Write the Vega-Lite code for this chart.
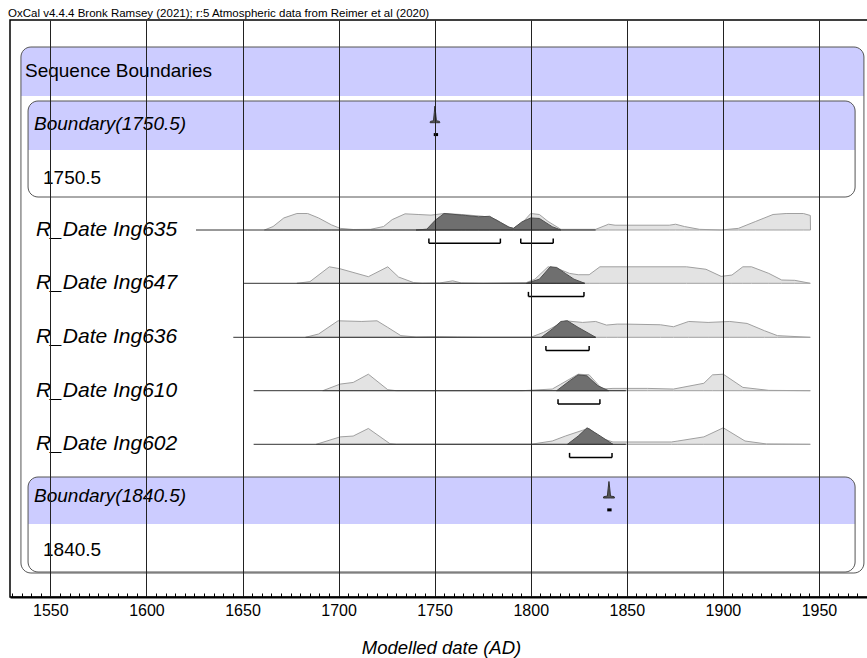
{
"$schema": "https://vega.github.io/schema/vega-lite/v6.json",
"width": 862, "height": 577, "autosize": "none",
"padding": {"left": 10, "top": 20, "right": 0, "bottom": 61},
"background": "white",
"config": {"view": {"stroke": "#000", "strokeWidth": 1.5}, "font": "Liberation Sans"},
"title": {"text": "OxCal v4.4.4 Bronk Ramsey (2021); r:5 Atmospheric data from Reimer et al (2020)", "anchor": "start", "frame": "group", "fontSize": 11.5, "fontWeight": "normal", "color": "#000", "offset": 2, "baseline": "bottom", "dx": -2, "dy": 12},
"datasets": {
"boxes": [
{"part":"header","x1":1534.7,"x2":1973.4,"y1":27,"y2":76},
{"part":"outline","x1":1534.7,"x2":1973.4,"y1":27,"y2":553},
{"part":"header","x1":1538.4,"x2":1968.8,"y1":81,"y2":130},
{"part":"outline","x1":1538.4,"x2":1968.8,"y1":81,"y2":177},
{"part":"header","x1":1538.4,"x2":1968.8,"y1":457,"y2":504},
{"part":"outline","x1":1538.4,"x2":1968.8,"y1":457,"y2":552}
],
"texts": [
{"role":"group","t":"Sequence Boundaries","x":1536.8,"y":51},
{"role":"name","t":"Boundary(1750.5)","x":1541.5,"y":104},
{"role":"value","t":"1750.5","x":1546.2,"y":158},
{"role":"name","t":"Boundary(1840.5)","x":1541.5,"y":476},
{"role":"value","t":"1840.5","x":1546.2,"y":530}
],
"labels": [
{"id":"Ing635","label":"R_Date Ing635"},
{"id":"Ing647","label":"R_Date Ing647"},
{"id":"Ing636","label":"R_Date Ing636"},
{"id":"Ing610","label":"R_Date Ing610"},
{"id":"Ing602","label":"R_Date Ing602"}
],
"lines": [
{"id":"Ing635","from":1625.8,"to":1833.8},
{"id":"Ing647","from":1650.8,"to":1828.1},
{"id":"Ing636","from":1645.2,"to":1833.8},
{"id":"Ing610","from":1655.8,"to":1849.5},
{"id":"Ing602","from":1655.8,"to":1849.5}
],
"ranges": [
{"id":"Ing635","from":1747.0,"to":1784.2},
{"id":"Ing635","from":1794.8,"to":1811.7},
{"id":"Ing647","from":1798.8,"to":1827.7},
{"id":"Ing636","from":1807.9,"to":1830.4},
{"id":"Ing610","from":1814.2,"to":1836.0},
{"id":"Ing602","from":1820.2,"to":1842.3},
{"id":"B1750","from":1750.3,"to":1751.0},
{"id":"B1840","from":1840.6,"to":1841.3}
],
"dist": [
{"id":"Ing635","kind":"prior","year":1661.4,"p":0},
{"id":"Ing635","kind":"prior","year":1665.9,"p":0.21},
{"id":"Ing635","kind":"prior","year":1671.5,"p":0.73},
{"id":"Ing635","kind":"prior","year":1678.3,"p":1.0},
{"id":"Ing635","kind":"prior","year":1683.9,"p":1.0},
{"id":"Ing635","kind":"prior","year":1689.6,"p":0.73},
{"id":"Ing635","kind":"prior","year":1696.3,"p":0.31},
{"id":"Ing635","kind":"prior","year":1700.8,"p":0.10},
{"id":"Ing635","kind":"prior","year":1707.6,"p":0.03},
{"id":"Ing635","kind":"prior","year":1716.6,"p":0.04},
{"id":"Ing635","kind":"prior","year":1723.4,"p":0.21},
{"id":"Ing635","kind":"prior","year":1727.9,"p":0.63},
{"id":"Ing635","kind":"prior","year":1734.6,"p":0.98},
{"id":"Ing635","kind":"prior","year":1741.4,"p":0.94},
{"id":"Ing635","kind":"prior","year":1748.1,"p":0.90},
{"id":"Ing635","kind":"prior","year":1754.9,"p":1.0},
{"id":"Ing635","kind":"prior","year":1763.9,"p":0.94},
{"id":"Ing635","kind":"prior","year":1775.2,"p":0.83},
{"id":"Ing635","kind":"prior","year":1781.9,"p":0.63},
{"id":"Ing635","kind":"prior","year":1788.7,"p":0.17},
{"id":"Ing635","kind":"prior","year":1791.0,"p":0.10},
{"id":"Ing635","kind":"prior","year":1795.5,"p":0.42},
{"id":"Ing635","kind":"prior","year":1800.0,"p":1.0},
{"id":"Ing635","kind":"prior","year":1804.5,"p":0.94},
{"id":"Ing635","kind":"prior","year":1809.0,"p":0.52},
{"id":"Ing635","kind":"prior","year":1815.7,"p":0.04},
{"id":"Ing635","kind":"prior","year":1833.8,"p":0.04},
{"id":"Ing635","kind":"prior","year":1840.5,"p":0.35},
{"id":"Ing635","kind":"prior","year":1843.9,"p":0.29},
{"id":"Ing635","kind":"prior","year":1872.1,"p":0.29},
{"id":"Ing635","kind":"prior","year":1875.4,"p":0.35},
{"id":"Ing635","kind":"prior","year":1880.0,"p":0.21},
{"id":"Ing635","kind":"prior","year":1887.8,"p":0.04},
{"id":"Ing635","kind":"prior","year":1899.1,"p":0.0},
{"id":"Ing635","kind":"prior","year":1908.1,"p":0.10},
{"id":"Ing635","kind":"prior","year":1917.1,"p":0.52},
{"id":"Ing635","kind":"prior","year":1926.1,"p":0.94},
{"id":"Ing635","kind":"prior","year":1932.9,"p":1.0},
{"id":"Ing635","kind":"prior","year":1941.9,"p":1.0},
{"id":"Ing635","kind":"prior","year":1945.5,"p":0.88},
{"id":"Ing635","kind":"prior","year":1945.6,"p":0},
{"id":"Ing635","kind":"post","year":1740.3,"p":0},
{"id":"Ing635","kind":"post","year":1745.9,"p":0.05},
{"id":"Ing635","kind":"post","year":1750.4,"p":0.6},
{"id":"Ing635","kind":"post","year":1754.9,"p":1.0},
{"id":"Ing635","kind":"post","year":1766.2,"p":0.88},
{"id":"Ing635","kind":"post","year":1772.9,"p":0.80},
{"id":"Ing635","kind":"post","year":1778.6,"p":0.83},
{"id":"Ing635","kind":"post","year":1784.2,"p":0.46},
{"id":"Ing635","kind":"post","year":1788.7,"p":0.17},
{"id":"Ing635","kind":"post","year":1791.0,"p":0.10},
{"id":"Ing635","kind":"post","year":1795.5,"p":0.5},
{"id":"Ing635","kind":"post","year":1800.0,"p":0.73},
{"id":"Ing635","kind":"post","year":1804.5,"p":0.70},
{"id":"Ing635","kind":"post","year":1811.2,"p":0.2},
{"id":"Ing635","kind":"post","year":1815.7,"p":0},
{"id":"Ing647","kind":"prior","year":1678.3,"p":0},
{"id":"Ing647","kind":"prior","year":1685.1,"p":0.1},
{"id":"Ing647","kind":"prior","year":1695.2,"p":1.0},
{"id":"Ing647","kind":"prior","year":1700.8,"p":0.88},
{"id":"Ing647","kind":"prior","year":1715.5,"p":0.4},
{"id":"Ing647","kind":"prior","year":1725.6,"p":1.0},
{"id":"Ing647","kind":"prior","year":1731.2,"p":0.38},
{"id":"Ing647","kind":"prior","year":1739.1,"p":0.04},
{"id":"Ing647","kind":"prior","year":1743.6,"p":0},
{"id":"Ing647","kind":"prior","year":1752.7,"p":0.02},
{"id":"Ing647","kind":"prior","year":1759.4,"p":0.15},
{"id":"Ing647","kind":"prior","year":1763.9,"p":0.02},
{"id":"Ing647","kind":"prior","year":1775.2,"p":0},
{"id":"Ing647","kind":"prior","year":1797.7,"p":0.04},
{"id":"Ing647","kind":"prior","year":1802.2,"p":0.25},
{"id":"Ing647","kind":"prior","year":1809.0,"p":1.0},
{"id":"Ing647","kind":"prior","year":1813.5,"p":0.92},
{"id":"Ing647","kind":"prior","year":1820.2,"p":0.6},
{"id":"Ing647","kind":"prior","year":1824.7,"p":0.52},
{"id":"Ing647","kind":"prior","year":1830.4,"p":0.52},
{"id":"Ing647","kind":"prior","year":1836.0,"p":1.0},
{"id":"Ing647","kind":"prior","year":1849.5,"p":1.0},
{"id":"Ing647","kind":"prior","year":1881.1,"p":1.0},
{"id":"Ing647","kind":"prior","year":1891.2,"p":0.85},
{"id":"Ing647","kind":"prior","year":1899.1,"p":0.42},
{"id":"Ing647","kind":"prior","year":1904.7,"p":0.5},
{"id":"Ing647","kind":"prior","year":1910.4,"p":1.0},
{"id":"Ing647","kind":"prior","year":1914.9,"p":1.0},
{"id":"Ing647","kind":"prior","year":1923.9,"p":0.6},
{"id":"Ing647","kind":"prior","year":1930.6,"p":0.2},
{"id":"Ing647","kind":"prior","year":1937.4,"p":0.18},
{"id":"Ing647","kind":"prior","year":1945.5,"p":0},
{"id":"Ing647","kind":"post","year":1797.7,"p":0},
{"id":"Ing647","kind":"post","year":1804.5,"p":0.25},
{"id":"Ing647","kind":"post","year":1810.1,"p":1.0},
{"id":"Ing647","kind":"post","year":1813.5,"p":0.96},
{"id":"Ing647","kind":"post","year":1818.0,"p":0.6},
{"id":"Ing647","kind":"post","year":1822.5,"p":0.25},
{"id":"Ing647","kind":"post","year":1828.1,"p":0},
{"id":"Ing636","kind":"prior","year":1682.8,"p":0},
{"id":"Ing636","kind":"prior","year":1689.6,"p":0.2},
{"id":"Ing636","kind":"prior","year":1699.7,"p":1.0},
{"id":"Ing636","kind":"prior","year":1712.1,"p":0.96},
{"id":"Ing636","kind":"prior","year":1720.0,"p":1.0},
{"id":"Ing636","kind":"prior","year":1725.6,"p":0.6},
{"id":"Ing636","kind":"prior","year":1732.4,"p":0.1},
{"id":"Ing636","kind":"prior","year":1740.3,"p":0.02},
{"id":"Ing636","kind":"prior","year":1752.7,"p":0.04},
{"id":"Ing636","kind":"prior","year":1761.7,"p":0.02},
{"id":"Ing636","kind":"prior","year":1775.2,"p":0},
{"id":"Ing636","kind":"prior","year":1800.0,"p":0},
{"id":"Ing636","kind":"prior","year":1806.7,"p":0.3},
{"id":"Ing636","kind":"prior","year":1818.0,"p":1.0},
{"id":"Ing636","kind":"prior","year":1827.0,"p":0.9},
{"id":"Ing636","kind":"prior","year":1833.8,"p":0.96},
{"id":"Ing636","kind":"prior","year":1839.4,"p":0.74},
{"id":"Ing636","kind":"prior","year":1845.0,"p":0.8},
{"id":"Ing636","kind":"prior","year":1849.5,"p":0.8},
{"id":"Ing636","kind":"prior","year":1867.5,"p":0.76},
{"id":"Ing636","kind":"prior","year":1874.3,"p":0.64},
{"id":"Ing636","kind":"prior","year":1882.2,"p":0.96},
{"id":"Ing636","kind":"prior","year":1892.3,"p":0.9},
{"id":"Ing636","kind":"prior","year":1903.6,"p":0.96},
{"id":"Ing636","kind":"prior","year":1912.6,"p":0.84},
{"id":"Ing636","kind":"prior","year":1921.6,"p":0.4},
{"id":"Ing636","kind":"prior","year":1928.4,"p":0.1},
{"id":"Ing636","kind":"prior","year":1945.5,"p":0},
{"id":"Ing636","kind":"post","year":1805.6,"p":0},
{"id":"Ing636","kind":"post","year":1811.2,"p":0.5},
{"id":"Ing636","kind":"post","year":1815.7,"p":0.96},
{"id":"Ing636","kind":"post","year":1819.1,"p":1.0},
{"id":"Ing636","kind":"post","year":1824.7,"p":0.6},
{"id":"Ing636","kind":"post","year":1833.8,"p":0},
{"id":"Ing610","kind":"prior","year":1691.8,"p":0},
{"id":"Ing610","kind":"prior","year":1700.8,"p":0.4},
{"id":"Ing610","kind":"prior","year":1707.6,"p":0.5},
{"id":"Ing610","kind":"prior","year":1715.5,"p":1.0},
{"id":"Ing610","kind":"prior","year":1725.6,"p":0.06},
{"id":"Ing610","kind":"prior","year":1730.1,"p":0},
{"id":"Ing610","kind":"prior","year":1795.5,"p":0},
{"id":"Ing610","kind":"prior","year":1811.2,"p":0.1},
{"id":"Ing610","kind":"prior","year":1815.7,"p":0.4},
{"id":"Ing610","kind":"prior","year":1824.7,"p":1.0},
{"id":"Ing610","kind":"prior","year":1830.4,"p":0.96},
{"id":"Ing610","kind":"prior","year":1837.1,"p":0.1},
{"id":"Ing610","kind":"prior","year":1842.8,"p":0.14},
{"id":"Ing610","kind":"prior","year":1860.8,"p":0.14},
{"id":"Ing610","kind":"prior","year":1874.3,"p":0.1},
{"id":"Ing610","kind":"prior","year":1890.1,"p":0.45},
{"id":"Ing610","kind":"prior","year":1894.6,"p":0.96},
{"id":"Ing610","kind":"prior","year":1900.2,"p":1.0},
{"id":"Ing610","kind":"prior","year":1910.4,"p":0.2},
{"id":"Ing610","kind":"prior","year":1923.9,"p":0.02},
{"id":"Ing610","kind":"prior","year":1945.5,"p":0},
{"id":"Ing610","kind":"post","year":1813.5,"p":0},
{"id":"Ing610","kind":"post","year":1820.2,"p":0.6},
{"id":"Ing610","kind":"post","year":1824.7,"p":0.96},
{"id":"Ing610","kind":"post","year":1829.3,"p":0.9},
{"id":"Ing610","kind":"post","year":1834.9,"p":0.3},
{"id":"Ing610","kind":"post","year":1840.5,"p":0},
{"id":"Ing602","kind":"prior","year":1688.4,"p":0},
{"id":"Ing602","kind":"prior","year":1700.8,"p":0.45},
{"id":"Ing602","kind":"prior","year":1707.6,"p":0.5},
{"id":"Ing602","kind":"prior","year":1715.5,"p":0.96},
{"id":"Ing602","kind":"prior","year":1726.7,"p":0.04},
{"id":"Ing602","kind":"prior","year":1730.1,"p":0},
{"id":"Ing602","kind":"prior","year":1800.0,"p":0},
{"id":"Ing602","kind":"prior","year":1811.2,"p":0.2},
{"id":"Ing602","kind":"prior","year":1818.0,"p":0.5},
{"id":"Ing602","kind":"prior","year":1827.0,"p":0.85},
{"id":"Ing602","kind":"prior","year":1830.4,"p":0.96},
{"id":"Ing602","kind":"prior","year":1837.1,"p":0.35},
{"id":"Ing602","kind":"prior","year":1842.8,"p":0.14},
{"id":"Ing602","kind":"prior","year":1873.2,"p":0.14},
{"id":"Ing602","kind":"prior","year":1876.6,"p":0.2},
{"id":"Ing602","kind":"prior","year":1890.1,"p":0.45},
{"id":"Ing602","kind":"prior","year":1900.2,"p":1.0},
{"id":"Ing602","kind":"prior","year":1911.5,"p":0.2},
{"id":"Ing602","kind":"prior","year":1922.7,"p":0.02},
{"id":"Ing602","kind":"prior","year":1945.5,"p":0},
{"id":"Ing602","kind":"post","year":1819.1,"p":0},
{"id":"Ing602","kind":"post","year":1824.7,"p":0.5},
{"id":"Ing602","kind":"post","year":1829.3,"p":1.0},
{"id":"Ing602","kind":"post","year":1834.9,"p":0.6},
{"id":"Ing602","kind":"post","year":1842.8,"p":0},
{"id":"B1750","kind":"post","year":1747.6,"p":0},
{"id":"B1750","kind":"post","year":1747.8,"p":0.08},
{"id":"B1750","kind":"post","year":1749.4,"p":0.12},
{"id":"B1750","kind":"post","year":1749.8,"p":0.6},
{"id":"B1750","kind":"post","year":1750.1,"p":1.0},
{"id":"B1750","kind":"post","year":1750.5,"p":0.6},
{"id":"B1750","kind":"post","year":1750.9,"p":0.12},
{"id":"B1750","kind":"post","year":1752.5,"p":0.08},
{"id":"B1750","kind":"post","year":1752.7,"p":0},
{"id":"B1840","kind":"post","year":1837.8,"p":0},
{"id":"B1840","kind":"post","year":1838.0,"p":0.08},
{"id":"B1840","kind":"post","year":1839.9,"p":0.12},
{"id":"B1840","kind":"post","year":1840.3,"p":0.6},
{"id":"B1840","kind":"post","year":1840.7,"p":1.0},
{"id":"B1840","kind":"post","year":1841.1,"p":0.6},
{"id":"B1840","kind":"post","year":1841.5,"p":0.12},
{"id":"B1840","kind":"post","year":1843.4,"p":0.08},
{"id":"B1840","kind":"post","year":1843.6,"p":0}
]
},
"resolve": {"scale": {"y": "independent"}, "axis": {"x": "independent"}},
"layer": [
 {"data": {"name": "boxes"}, "transform": [{"filter": "datum.part === 'header'"}],
  "mark": {"type": "rect", "fill": "#ccccff", "cornerRadiusTopLeft": 10, "cornerRadiusTopRight": 10},
  "encoding": {
   "x": {"field": "x1", "type": "quantitative", "scale": {"domain": [1529, 1977.6], "nice": false, "zero": false},
    "axis": {"orient": "bottom", "values": [1550,1600,1650,1700,1750,1800,1850,1900,1950],
     "title": "Modelled date (AD)", "format": "d", "ticks": false,
     "grid": true, "gridColor": "#222", "gridWidth": 1, "gridOpacity": 1,
     "domainColor": "#000", "domainWidth": 2,
     "labelFontSize": 16, "labelColor": "#000", "labelPadding": 5, "labelFlush": false, "labelOverlap": false,
     "titleFontSize": 18.5, "titleFontStyle": "italic", "titleFontWeight": "normal", "titleColor": "#000", "titlePadding": 20,
     "zindex": 1}},
   "x2": {"field": "x2"},
   "y": {"field": "y1", "type": "quantitative", "scale": {"domain": [0, 577], "reverse": true, "nice": false, "zero": false}, "axis": null},
   "y2": {"field": "y2"}}},
 {"data": {"name": "boxes"}, "transform": [{"filter": "datum.part === 'outline'"}],
  "mark": {"type": "rect", "fill": "#ffffff", "fillOpacity": 0, "stroke": "#555", "strokeWidth": 1, "cornerRadius": 10},
  "encoding": {
   "x": {"field": "x1", "type": "quantitative", "scale": {"domain": [1529, 1977.6], "nice": false, "zero": false},
    "axis": {"orient": "bottom", "values": [1530,1535,1540,1545,1555,1560,1565,1570,1575,1580,1585,1590,1595,1605,1610,1615,1620,1625,1630,1635,1640,1645,1655,1660,1665,1670,1675,1680,1685,1690,1695,1705,1710,1715,1720,1725,1730,1735,1740,1745,1755,1760,1765,1770,1775,1780,1785,1790,1795,1805,1810,1815,1820,1825,1830,1835,1840,1845,1855,1860,1865,1870,1875,1880,1885,1890,1895,1905,1910,1915,1920,1925,1930,1935,1940,1945,1955,1960,1965,1970,1975],
     "title": null, "labels": false, "grid": false, "domain": false, "ticks": true, "tickSize": 4, "tickColor": "#000", "tickWidth": 1, "offset": -4, "zindex": 1}},
   "x2": {"field": "x2"},
   "y": {"field": "y1", "type": "quantitative", "scale": {"domain": [0, 577], "reverse": true, "nice": false, "zero": false}, "axis": null},
   "y2": {"field": "y2"}}},
 {"data": {"name": "texts"}, "transform": [{"filter": "datum.role === 'group'"}],
  "mark": {"type": "text", "align": "left", "baseline": "middle", "fontSize": 19, "color": "#000"},
  "encoding": {
   "x": {"field": "x", "type": "quantitative", "scale": {"domain": [1529, 1977.6], "nice": false, "zero": false}, "axis": null},
   "y": {"field": "y", "type": "quantitative", "scale": {"domain": [0, 577], "reverse": true, "nice": false, "zero": false}, "axis": null},
   "text": {"field": "t"}}},
 {"data": {"name": "texts"}, "transform": [{"filter": "datum.role === 'name'"}],
  "mark": {"type": "text", "align": "left", "baseline": "middle", "fontSize": 19, "fontStyle": "italic", "color": "#000"},
  "encoding": {
   "x": {"field": "x", "type": "quantitative", "scale": {"domain": [1529, 1977.6], "nice": false, "zero": false}, "axis": null},
   "y": {"field": "y", "type": "quantitative", "scale": {"domain": [0, 577], "reverse": true, "nice": false, "zero": false}, "axis": null},
   "text": {"field": "t"}}},
 {"data": {"name": "texts"}, "transform": [{"filter": "datum.role === 'value'"}],
  "mark": {"type": "text", "align": "left", "baseline": "middle", "fontSize": 19, "color": "#000"},
  "encoding": {
   "x": {"field": "x", "type": "quantitative", "scale": {"domain": [1529, 1977.6], "nice": false, "zero": false}, "axis": null},
   "y": {"field": "y", "type": "quantitative", "scale": {"domain": [0, 577], "reverse": true, "nice": false, "zero": false}, "axis": null},
   "text": {"field": "t"}}},
{"layer": [
 {"data": {"name": "dist"}, "transform": [{"filter": "datum.id === 'Ing635' && datum.kind === 'prior'"}], "mark": {"type": "area", "fill": "#e3e3e3", "stroke": "#a0a0a0", "strokeWidth": 1},
  "encoding": {"x": {"field": "year", "type": "quantitative", "scale": {"domain": [1529, 1977.6], "nice": false, "zero": false}, "axis": null}, "y": {"field": "p", "type": "quantitative", "scale": {"domain": [-22.2424, 12.7273], "nice": false, "zero": false}, "axis": null}, "y2": {"datum": 0}}},
 {"data": {"name": "dist"}, "transform": [{"filter": "datum.id === 'Ing635' && datum.kind === 'post'"}], "mark": {"type": "area", "fill": "#6f6f6f", "stroke": "#505050", "strokeWidth": 1},
  "encoding": {"x": {"field": "year", "type": "quantitative", "scale": {"domain": [1529, 1977.6], "nice": false, "zero": false}, "axis": null}, "y": {"field": "p", "type": "quantitative", "scale": {"domain": [-22.2424, 12.7273], "nice": false, "zero": false}, "axis": null}, "y2": {"datum": 0}}},
 {"data": {"name": "lines"}, "transform": [{"filter": "datum.id === 'Ing635'"}], "mark": {"type": "rule", "color": "#333", "strokeWidth": 1},
  "encoding": {"x": {"field": "from", "type": "quantitative", "scale": {"domain": [1529, 1977.6], "nice": false, "zero": false}, "axis": null}, "x2": {"field": "to"}, "y": {"datum": 0, "type": "quantitative", "scale": {"domain": [-22.2424, 12.7273], "nice": false, "zero": false}, "axis": null}}},
 {"data": {"name": "ranges"}, "transform": [{"filter": "datum.id === 'Ing635'"}], "mark": {"type": "rule", "color": "#000", "strokeWidth": 1.5},
  "encoding": {"x": {"field": "from", "type": "quantitative", "scale": {"domain": [1529, 1977.6], "nice": false, "zero": false}, "axis": null}, "x2": {"field": "to"}, "y": {"datum": -0.8, "type": "quantitative", "scale": {"domain": [-22.2424, 12.7273], "nice": false, "zero": false}, "axis": null}}},
 {"data": {"name": "ranges"}, "transform": [{"filter": "datum.id === 'Ing635'"}], "mark": {"type": "rule", "color": "#000", "strokeWidth": 1.5},
  "encoding": {"x": {"field": "from", "type": "quantitative", "scale": {"domain": [1529, 1977.6], "nice": false, "zero": false}, "axis": null}, "y": {"datum": -0.8, "type": "quantitative", "scale": {"domain": [-22.2424, 12.7273], "nice": false, "zero": false}, "axis": null}, "y2": {"datum": -0.52}}},
 {"data": {"name": "ranges"}, "transform": [{"filter": "datum.id === 'Ing635'"}], "mark": {"type": "rule", "color": "#000", "strokeWidth": 1.5},
  "encoding": {"x": {"field": "to", "type": "quantitative", "scale": {"domain": [1529, 1977.6], "nice": false, "zero": false}, "axis": null}, "y": {"datum": -0.8, "type": "quantitative", "scale": {"domain": [-22.2424, 12.7273], "nice": false, "zero": false}, "axis": null}, "y2": {"datum": -0.52}}},
 {"data": {"name": "labels"}, "transform": [{"filter": "datum.id === 'Ing635'"}], "mark": {"type": "text", "align": "left", "baseline": "middle", "fontSize": 21, "fontStyle": "italic", "color": "#000"},
  "encoding": {"x": {"datum": 1542.5, "type": "quantitative", "scale": {"domain": [1529, 1977.6], "nice": false, "zero": false}, "axis": null}, "y": {"datum": 0, "type": "quantitative", "scale": {"domain": [-22.2424, 12.7273], "nice": false, "zero": false}, "axis": null}, "text": {"field": "label"}}}
]},
{"layer": [
 {"data": {"name": "dist"}, "transform": [{"filter": "datum.id === 'Ing647' && datum.kind === 'prior'"}], "mark": {"type": "area", "fill": "#e3e3e3", "stroke": "#a0a0a0", "strokeWidth": 1},
  "encoding": {"x": {"field": "year", "type": "quantitative", "scale": {"domain": [1529, 1977.6], "nice": false, "zero": false}, "axis": null}, "y": {"field": "p", "type": "quantitative", "scale": {"domain": [-19.0121, 15.9576], "nice": false, "zero": false}, "axis": null}, "y2": {"datum": 0}}},
 {"data": {"name": "dist"}, "transform": [{"filter": "datum.id === 'Ing647' && datum.kind === 'post'"}], "mark": {"type": "area", "fill": "#6f6f6f", "stroke": "#505050", "strokeWidth": 1},
  "encoding": {"x": {"field": "year", "type": "quantitative", "scale": {"domain": [1529, 1977.6], "nice": false, "zero": false}, "axis": null}, "y": {"field": "p", "type": "quantitative", "scale": {"domain": [-19.0121, 15.9576], "nice": false, "zero": false}, "axis": null}, "y2": {"datum": 0}}},
 {"data": {"name": "lines"}, "transform": [{"filter": "datum.id === 'Ing647'"}], "mark": {"type": "rule", "color": "#333", "strokeWidth": 1},
  "encoding": {"x": {"field": "from", "type": "quantitative", "scale": {"domain": [1529, 1977.6], "nice": false, "zero": false}, "axis": null}, "x2": {"field": "to"}, "y": {"datum": 0, "type": "quantitative", "scale": {"domain": [-19.0121, 15.9576], "nice": false, "zero": false}, "axis": null}}},
 {"data": {"name": "ranges"}, "transform": [{"filter": "datum.id === 'Ing647'"}], "mark": {"type": "rule", "color": "#000", "strokeWidth": 1.5},
  "encoding": {"x": {"field": "from", "type": "quantitative", "scale": {"domain": [1529, 1977.6], "nice": false, "zero": false}, "axis": null}, "x2": {"field": "to"}, "y": {"datum": -0.8, "type": "quantitative", "scale": {"domain": [-19.0121, 15.9576], "nice": false, "zero": false}, "axis": null}}},
 {"data": {"name": "ranges"}, "transform": [{"filter": "datum.id === 'Ing647'"}], "mark": {"type": "rule", "color": "#000", "strokeWidth": 1.5},
  "encoding": {"x": {"field": "from", "type": "quantitative", "scale": {"domain": [1529, 1977.6], "nice": false, "zero": false}, "axis": null}, "y": {"datum": -0.8, "type": "quantitative", "scale": {"domain": [-19.0121, 15.9576], "nice": false, "zero": false}, "axis": null}, "y2": {"datum": -0.52}}},
 {"data": {"name": "ranges"}, "transform": [{"filter": "datum.id === 'Ing647'"}], "mark": {"type": "rule", "color": "#000", "strokeWidth": 1.5},
  "encoding": {"x": {"field": "to", "type": "quantitative", "scale": {"domain": [1529, 1977.6], "nice": false, "zero": false}, "axis": null}, "y": {"datum": -0.8, "type": "quantitative", "scale": {"domain": [-19.0121, 15.9576], "nice": false, "zero": false}, "axis": null}, "y2": {"datum": -0.52}}},
 {"data": {"name": "labels"}, "transform": [{"filter": "datum.id === 'Ing647'"}], "mark": {"type": "text", "align": "left", "baseline": "middle", "fontSize": 21, "fontStyle": "italic", "color": "#000"},
  "encoding": {"x": {"datum": 1542.5, "type": "quantitative", "scale": {"domain": [1529, 1977.6], "nice": false, "zero": false}, "axis": null}, "y": {"datum": 0, "type": "quantitative", "scale": {"domain": [-19.0121, 15.9576], "nice": false, "zero": false}, "axis": null}, "text": {"field": "label"}}}
]},
{"layer": [
 {"data": {"name": "dist"}, "transform": [{"filter": "datum.id === 'Ing636' && datum.kind === 'prior'"}], "mark": {"type": "area", "fill": "#e3e3e3", "stroke": "#a0a0a0", "strokeWidth": 1},
  "encoding": {"x": {"field": "year", "type": "quantitative", "scale": {"domain": [1529, 1977.6], "nice": false, "zero": false}, "axis": null}, "y": {"field": "p", "type": "quantitative", "scale": {"domain": [-15.7394, 19.2303], "nice": false, "zero": false}, "axis": null}, "y2": {"datum": 0}}},
 {"data": {"name": "dist"}, "transform": [{"filter": "datum.id === 'Ing636' && datum.kind === 'post'"}], "mark": {"type": "area", "fill": "#6f6f6f", "stroke": "#505050", "strokeWidth": 1},
  "encoding": {"x": {"field": "year", "type": "quantitative", "scale": {"domain": [1529, 1977.6], "nice": false, "zero": false}, "axis": null}, "y": {"field": "p", "type": "quantitative", "scale": {"domain": [-15.7394, 19.2303], "nice": false, "zero": false}, "axis": null}, "y2": {"datum": 0}}},
 {"data": {"name": "lines"}, "transform": [{"filter": "datum.id === 'Ing636'"}], "mark": {"type": "rule", "color": "#333", "strokeWidth": 1},
  "encoding": {"x": {"field": "from", "type": "quantitative", "scale": {"domain": [1529, 1977.6], "nice": false, "zero": false}, "axis": null}, "x2": {"field": "to"}, "y": {"datum": 0, "type": "quantitative", "scale": {"domain": [-15.7394, 19.2303], "nice": false, "zero": false}, "axis": null}}},
 {"data": {"name": "ranges"}, "transform": [{"filter": "datum.id === 'Ing636'"}], "mark": {"type": "rule", "color": "#000", "strokeWidth": 1.5},
  "encoding": {"x": {"field": "from", "type": "quantitative", "scale": {"domain": [1529, 1977.6], "nice": false, "zero": false}, "axis": null}, "x2": {"field": "to"}, "y": {"datum": -0.8, "type": "quantitative", "scale": {"domain": [-15.7394, 19.2303], "nice": false, "zero": false}, "axis": null}}},
 {"data": {"name": "ranges"}, "transform": [{"filter": "datum.id === 'Ing636'"}], "mark": {"type": "rule", "color": "#000", "strokeWidth": 1.5},
  "encoding": {"x": {"field": "from", "type": "quantitative", "scale": {"domain": [1529, 1977.6], "nice": false, "zero": false}, "axis": null}, "y": {"datum": -0.8, "type": "quantitative", "scale": {"domain": [-15.7394, 19.2303], "nice": false, "zero": false}, "axis": null}, "y2": {"datum": -0.52}}},
 {"data": {"name": "ranges"}, "transform": [{"filter": "datum.id === 'Ing636'"}], "mark": {"type": "rule", "color": "#000", "strokeWidth": 1.5},
  "encoding": {"x": {"field": "to", "type": "quantitative", "scale": {"domain": [1529, 1977.6], "nice": false, "zero": false}, "axis": null}, "y": {"datum": -0.8, "type": "quantitative", "scale": {"domain": [-15.7394, 19.2303], "nice": false, "zero": false}, "axis": null}, "y2": {"datum": -0.52}}},
 {"data": {"name": "labels"}, "transform": [{"filter": "datum.id === 'Ing636'"}], "mark": {"type": "text", "align": "left", "baseline": "middle", "fontSize": 21, "fontStyle": "italic", "color": "#000"},
  "encoding": {"x": {"datum": 1542.5, "type": "quantitative", "scale": {"domain": [1529, 1977.6], "nice": false, "zero": false}, "axis": null}, "y": {"datum": 0, "type": "quantitative", "scale": {"domain": [-15.7394, 19.2303], "nice": false, "zero": false}, "axis": null}, "text": {"field": "label"}}}
]},
{"layer": [
 {"data": {"name": "dist"}, "transform": [{"filter": "datum.id === 'Ing610' && datum.kind === 'prior'"}], "mark": {"type": "area", "fill": "#e3e3e3", "stroke": "#a0a0a0", "strokeWidth": 1},
  "encoding": {"x": {"field": "year", "type": "quantitative", "scale": {"domain": [1529, 1977.6], "nice": false, "zero": false}, "axis": null}, "y": {"field": "p", "type": "quantitative", "scale": {"domain": [-12.503, 22.4667], "nice": false, "zero": false}, "axis": null}, "y2": {"datum": 0}}},
 {"data": {"name": "dist"}, "transform": [{"filter": "datum.id === 'Ing610' && datum.kind === 'post'"}], "mark": {"type": "area", "fill": "#6f6f6f", "stroke": "#505050", "strokeWidth": 1},
  "encoding": {"x": {"field": "year", "type": "quantitative", "scale": {"domain": [1529, 1977.6], "nice": false, "zero": false}, "axis": null}, "y": {"field": "p", "type": "quantitative", "scale": {"domain": [-12.503, 22.4667], "nice": false, "zero": false}, "axis": null}, "y2": {"datum": 0}}},
 {"data": {"name": "lines"}, "transform": [{"filter": "datum.id === 'Ing610'"}], "mark": {"type": "rule", "color": "#333", "strokeWidth": 1},
  "encoding": {"x": {"field": "from", "type": "quantitative", "scale": {"domain": [1529, 1977.6], "nice": false, "zero": false}, "axis": null}, "x2": {"field": "to"}, "y": {"datum": 0, "type": "quantitative", "scale": {"domain": [-12.503, 22.4667], "nice": false, "zero": false}, "axis": null}}},
 {"data": {"name": "ranges"}, "transform": [{"filter": "datum.id === 'Ing610'"}], "mark": {"type": "rule", "color": "#000", "strokeWidth": 1.5},
  "encoding": {"x": {"field": "from", "type": "quantitative", "scale": {"domain": [1529, 1977.6], "nice": false, "zero": false}, "axis": null}, "x2": {"field": "to"}, "y": {"datum": -0.8, "type": "quantitative", "scale": {"domain": [-12.503, 22.4667], "nice": false, "zero": false}, "axis": null}}},
 {"data": {"name": "ranges"}, "transform": [{"filter": "datum.id === 'Ing610'"}], "mark": {"type": "rule", "color": "#000", "strokeWidth": 1.5},
  "encoding": {"x": {"field": "from", "type": "quantitative", "scale": {"domain": [1529, 1977.6], "nice": false, "zero": false}, "axis": null}, "y": {"datum": -0.8, "type": "quantitative", "scale": {"domain": [-12.503, 22.4667], "nice": false, "zero": false}, "axis": null}, "y2": {"datum": -0.52}}},
 {"data": {"name": "ranges"}, "transform": [{"filter": "datum.id === 'Ing610'"}], "mark": {"type": "rule", "color": "#000", "strokeWidth": 1.5},
  "encoding": {"x": {"field": "to", "type": "quantitative", "scale": {"domain": [1529, 1977.6], "nice": false, "zero": false}, "axis": null}, "y": {"datum": -0.8, "type": "quantitative", "scale": {"domain": [-12.503, 22.4667], "nice": false, "zero": false}, "axis": null}, "y2": {"datum": -0.52}}},
 {"data": {"name": "labels"}, "transform": [{"filter": "datum.id === 'Ing610'"}], "mark": {"type": "text", "align": "left", "baseline": "middle", "fontSize": 21, "fontStyle": "italic", "color": "#000"},
  "encoding": {"x": {"datum": 1542.5, "type": "quantitative", "scale": {"domain": [1529, 1977.6], "nice": false, "zero": false}, "axis": null}, "y": {"datum": 0, "type": "quantitative", "scale": {"domain": [-12.503, 22.4667], "nice": false, "zero": false}, "axis": null}, "text": {"field": "label"}}}
]},
{"layer": [
 {"data": {"name": "dist"}, "transform": [{"filter": "datum.id === 'Ing602' && datum.kind === 'prior'"}], "mark": {"type": "area", "fill": "#e3e3e3", "stroke": "#a0a0a0", "strokeWidth": 1},
  "encoding": {"x": {"field": "year", "type": "quantitative", "scale": {"domain": [1529, 1977.6], "nice": false, "zero": false}, "axis": null}, "y": {"field": "p", "type": "quantitative", "scale": {"domain": [-9.2545, 25.7152], "nice": false, "zero": false}, "axis": null}, "y2": {"datum": 0}}},
 {"data": {"name": "dist"}, "transform": [{"filter": "datum.id === 'Ing602' && datum.kind === 'post'"}], "mark": {"type": "area", "fill": "#6f6f6f", "stroke": "#505050", "strokeWidth": 1},
  "encoding": {"x": {"field": "year", "type": "quantitative", "scale": {"domain": [1529, 1977.6], "nice": false, "zero": false}, "axis": null}, "y": {"field": "p", "type": "quantitative", "scale": {"domain": [-9.2545, 25.7152], "nice": false, "zero": false}, "axis": null}, "y2": {"datum": 0}}},
 {"data": {"name": "lines"}, "transform": [{"filter": "datum.id === 'Ing602'"}], "mark": {"type": "rule", "color": "#333", "strokeWidth": 1},
  "encoding": {"x": {"field": "from", "type": "quantitative", "scale": {"domain": [1529, 1977.6], "nice": false, "zero": false}, "axis": null}, "x2": {"field": "to"}, "y": {"datum": 0, "type": "quantitative", "scale": {"domain": [-9.2545, 25.7152], "nice": false, "zero": false}, "axis": null}}},
 {"data": {"name": "ranges"}, "transform": [{"filter": "datum.id === 'Ing602'"}], "mark": {"type": "rule", "color": "#000", "strokeWidth": 1.5},
  "encoding": {"x": {"field": "from", "type": "quantitative", "scale": {"domain": [1529, 1977.6], "nice": false, "zero": false}, "axis": null}, "x2": {"field": "to"}, "y": {"datum": -0.8, "type": "quantitative", "scale": {"domain": [-9.2545, 25.7152], "nice": false, "zero": false}, "axis": null}}},
 {"data": {"name": "ranges"}, "transform": [{"filter": "datum.id === 'Ing602'"}], "mark": {"type": "rule", "color": "#000", "strokeWidth": 1.5},
  "encoding": {"x": {"field": "from", "type": "quantitative", "scale": {"domain": [1529, 1977.6], "nice": false, "zero": false}, "axis": null}, "y": {"datum": -0.8, "type": "quantitative", "scale": {"domain": [-9.2545, 25.7152], "nice": false, "zero": false}, "axis": null}, "y2": {"datum": -0.52}}},
 {"data": {"name": "ranges"}, "transform": [{"filter": "datum.id === 'Ing602'"}], "mark": {"type": "rule", "color": "#000", "strokeWidth": 1.5},
  "encoding": {"x": {"field": "to", "type": "quantitative", "scale": {"domain": [1529, 1977.6], "nice": false, "zero": false}, "axis": null}, "y": {"datum": -0.8, "type": "quantitative", "scale": {"domain": [-9.2545, 25.7152], "nice": false, "zero": false}, "axis": null}, "y2": {"datum": -0.52}}},
 {"data": {"name": "labels"}, "transform": [{"filter": "datum.id === 'Ing602'"}], "mark": {"type": "text", "align": "left", "baseline": "middle", "fontSize": 21, "fontStyle": "italic", "color": "#000"},
  "encoding": {"x": {"datum": 1542.5, "type": "quantitative", "scale": {"domain": [1529, 1977.6], "nice": false, "zero": false}, "axis": null}, "y": {"datum": 0, "type": "quantitative", "scale": {"domain": [-9.2545, 25.7152], "nice": false, "zero": false}, "axis": null}, "text": {"field": "label"}}}
]},
{"layer": [
 {"data": {"name": "dist"}, "transform": [{"filter": "datum.id === 'B1750'"}], "mark": {"type": "area", "fill": "#555", "stroke": "#333", "strokeWidth": 1},
  "encoding": {"x": {"field": "year", "type": "quantitative", "scale": {"domain": [1529, 1977.6], "nice": false, "zero": false}, "axis": null}, "y": {"field": "p", "type": "quantitative", "scale": {"domain": [-28.7455, 6.2242], "nice": false, "zero": false}, "axis": null}, "y2": {"datum": 0}}},
 {"data": {"name": "ranges"}, "transform": [{"filter": "datum.id === 'B1750'"}], "mark": {"type": "rule", "color": "#000", "strokeWidth": 3, "strokeCap": "square"},
  "encoding": {"x": {"field": "from", "type": "quantitative", "scale": {"domain": [1529, 1977.6], "nice": false, "zero": false}, "axis": null}, "x2": {"field": "to"}, "y": {"datum": -0.72, "type": "quantitative", "scale": {"domain": [-28.7455, 6.2242], "nice": false, "zero": false}, "axis": null}}}
]},
{"layer": [
 {"data": {"name": "dist"}, "transform": [{"filter": "datum.id === 'B1840'"}], "mark": {"type": "area", "fill": "#555", "stroke": "#333", "strokeWidth": 1},
  "encoding": {"x": {"field": "year", "type": "quantitative", "scale": {"domain": [1529, 1977.6], "nice": false, "zero": false}, "axis": null}, "y": {"field": "p", "type": "quantitative", "scale": {"domain": [-6.0, 28.9697], "nice": false, "zero": false}, "axis": null}, "y2": {"datum": 0}}},
 {"data": {"name": "ranges"}, "transform": [{"filter": "datum.id === 'B1840'"}], "mark": {"type": "rule", "color": "#000", "strokeWidth": 3, "strokeCap": "square"},
  "encoding": {"x": {"field": "from", "type": "quantitative", "scale": {"domain": [1529, 1977.6], "nice": false, "zero": false}, "axis": null}, "x2": {"field": "to"}, "y": {"datum": -0.72, "type": "quantitative", "scale": {"domain": [-6.0, 28.9697], "nice": false, "zero": false}, "axis": null}}}
]}
]
}
